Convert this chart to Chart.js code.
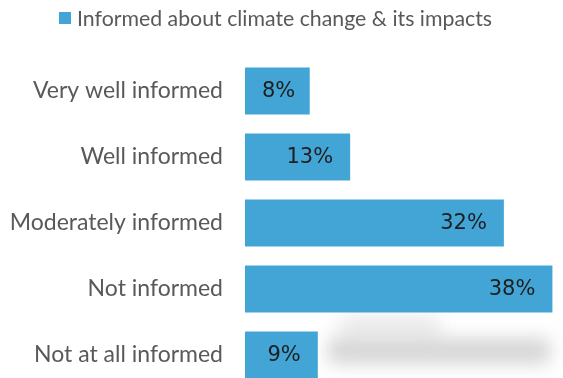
<!DOCTYPE html>
<html>
<head>
<meta charset="utf-8">
<script src="https://cdn.jsdelivr.net/npm/chart.js@4.4.1/dist/chart.umd.min.js"></script>
<style>
  html, body { margin: 0; padding: 0; background: #fff; overflow: hidden; }
  canvas { display: block; }
</style>
</head>
<body>
<canvas id="myChart" width="563" height="430"></canvas>
<script>
var categories = ["Very well informed", "Well informed", "Moderately informed", "Not informed", "Not at all informed"];
var values = [8, 13, 32, 38, 9];
var seriesName = "Informed about climate change & its impacts";
var barColor = "#42a5d6";

// soft grey smudge lying behind the last rows
var smudge = {
  id: "smudge",
  beforeDatasetsDraw: function (chart) {
    var ctx = chart.ctx;
    ctx.save();
    ctx.filter = "blur(9px)";
    ctx.fillStyle = "rgba(205,205,205,0.5)";
    ctx.fillRect(340, 318, 100, 18);
    ctx.fillStyle = "rgba(195,195,195,0.7)";
    ctx.fillRect(328, 338, 222, 26);
    ctx.restore();
  }
};

// legend square + text at the top
var topLegend = {
  id: "topLegend",
  afterDraw: function (chart) {
    var ctx = chart.ctx;
    ctx.save();
    ctx.fillStyle = barColor;
    ctx.fillRect(59, 12, 12, 12);
    ctx.fillStyle = "#595959";
    ctx.font = "21.3px Lato";
    ctx.textBaseline = "alphabetic";
    ctx.textAlign = "left";
    ctx.fillText(seriesName, 77, 26);
    ctx.restore();
  }
};

// percentage labels inside the bars
var barLabels = {
  id: "barLabels",
  afterDatasetsDraw: function (chart) {
    var ctx = chart.ctx;
    var meta = chart.getDatasetMeta(0);
    ctx.save();
    ctx.font = "21px 'DejaVu Sans'";
    ctx.fillStyle = "#1e1e1e";
    ctx.textBaseline = "middle";
    ctx.textAlign = "left";
    meta.data.forEach(function (bar, i) {
      var txt = values[i] + "%";
      var w = ctx.measureText(txt).width;
      var x = Math.max(bar.x - 17 - w, bar.base + 17);
      ctx.fillText(txt, x, bar.y + 1);
    });
    ctx.restore();
  }
};

new Chart("myChart", {
  type: "bar",
  data: {
    labels: categories,
    datasets: [{
      label: seriesName,
      data: values,
      backgroundColor: barColor,
      barPercentage: 0.71,
      categoryPercentage: 1
    }]
  },
  options: {
    indexAxis: "y",
    responsive: false,
    animation: false,
    layout: { padding: { top: 58, bottom: 42, right: 2.5, left: 0 } },
    plugins: {
      legend: { display: false },
      tooltip: { enabled: false }
    },
    scales: {
      x: { display: false, min: 0, max: 39 },
      y: {
        grid: { display: false },
        border: { display: false },
        ticks: { color: "#595959", font: { family: "Lato", size: 23 }, padding: 14 },
        afterFit: function (scale) { scale.width = 245; }
      }
    }
  },
  plugins: [smudge, barLabels, topLegend]
});
</script>
</body>
</html>
